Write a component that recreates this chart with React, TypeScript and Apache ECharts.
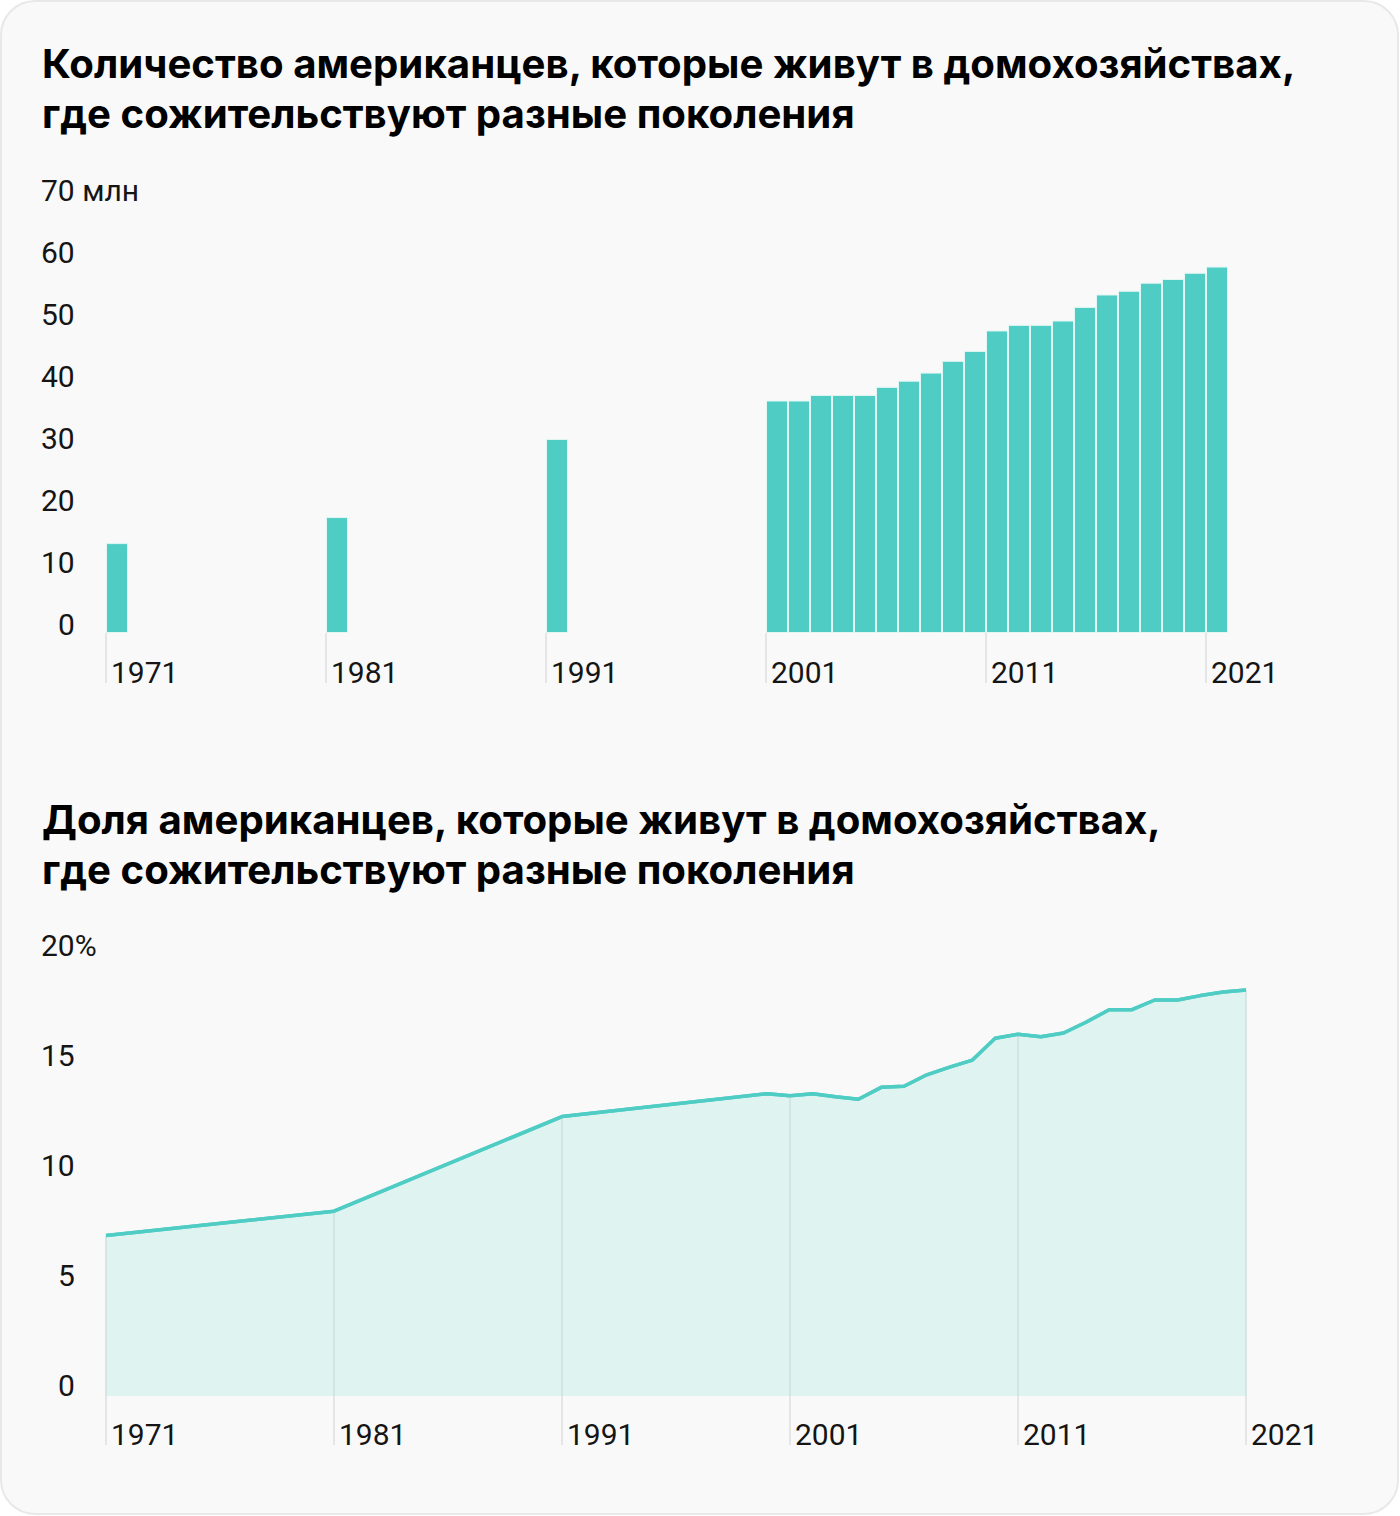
import React, { useEffect, useRef } from "react";
import * as echarts from "echarts";

const title1 = "Количество американцев, которые живут в домохозяйствах,\nгде сожительствуют разные поколения";
const title2 = "Доля американцев, которые живут в домохозяйствах,\nгде сожительствуют разные поколения";

const tickYears = [1971, 1981, 1991, 2001, 2011, 2021];

const barYears = [1971, 1981, 1991, 2001, 2002, 2003, 2004, 2005, 2006, 2007, 2008, 2009, 2010, 2011, 2012, 2013, 2014, 2015, 2016, 2017, 2018, 2019, 2020, 2021];
const barMillions = [14.5, 18.7, 31.3, 37.5, 37.5, 38.4, 38.4, 38.4, 39.7, 40.7, 42.0, 43.9, 45.5, 48.8, 49.7, 49.7, 50.4, 52.6, 54.6, 55.2, 56.5, 57.1, 58.1, 59.1];

const lineYears = [1971, 1981, 1991, 2000, 2001, 2002, 2003, 2004, 2005, 2006, 2007, 2008, 2009, 2010, 2011, 2012, 2013, 2014, 2015, 2016, 2017, 2018, 2019, 2020, 2021];
const sharePercent = [7.3, 8.4, 12.7, 13.74, 13.65, 13.74, 13.6, 13.49, 14.03, 14.08, 14.6, 14.95, 15.27, 16.26, 16.44, 16.33, 16.5, 17.0, 17.56, 17.56, 18.0, 18.0, 18.2, 18.36, 18.45];

const TITLE_FONT = "Inter";
const LABEL_FONT = "Roboto";
const TEAL = "#4fcdc4";

export default function App() {
  const ref = useRef<HTMLDivElement>(null);
  useEffect(() => {
    document.body.style.margin = "0";
    const chart = echarts.init(ref.current!, null, { renderer: "svg" });
    const labelBase = { color: "#151515", fontSize: 30, fontFamily: LABEL_FONT };
    const yLabel = (topValue: number, topSuffix: string, padB: number) => ({
      ...labelBase,
      align: "left",
      verticalAlign: "middle",
      margin: 65,
      padding: [0, 0, padB, 0],
      formatter: (v: number) => {
        if (v < 10) return "{p|" + v + "}";
        if (v === topValue) return v + topSuffix;
        return String(v);
      },
      rich: { p: { ...labelBase, padding: [0, 0, 0, 17] } },
    });
    const xAxisCommon = (min: number, max: number, tickLen: number, margin: number) => ({
      type: "value",
      min,
      max,
      axisLine: { show: false },
      splitLine: { show: false },
      axisTick: { show: true, length: tickLen, customValues: tickYears, lineStyle: { color: "#dedede", width: 1.5 } },
      axisLabel: {
        ...labelBase,
        customValues: tickYears,
        formatter: (v: number) => String(v),
        align: "left",
        verticalAlign: "top",
        lineHeight: 30,
        margin,
        padding: [0, 0, 0, 5],
      },
    });
    const gridLineVals = tickYears.map((y) => [y, sharePercent[lineYears.indexOf(y)]]);

    chart.setOption({
      animation: false,
      backgroundColor: "#ffffff",
      graphic: [
        {
          type: "rect",
          shape: { x: 1, y: 1, width: 1397, height: 1513, r: 34 },
          style: { fill: "#f9f9f9", stroke: "#e8e8e8", lineWidth: 2 },
          z: -10,
          silent: true,
        },
      ],
      title: [
        {
          text: title1,
          left: 37,
          top: 33,
          textStyle: { fontFamily: TITLE_FONT, fontSize: 40.2, fontWeight: 700, lineHeight: 50, color: "#000" },
        },
        {
          text: title2,
          left: 37,
          top: 789,
          textStyle: { fontFamily: TITLE_FONT, fontSize: 40.2, fontWeight: 700, lineHeight: 50, color: "#000" },
        },
      ],
      grid: [
        { left: 106, top: 199, width: 1122, height: 434 },
        { left: 106, top: 956, width: 1140, height: 440 },
      ],
      xAxis: [
        { gridIndex: 0, ...xAxisCommon(1971, 2022, 50, 24) },
        { gridIndex: 1, ...xAxisCommon(1971, 2021, 49, 23) },
      ],
      yAxis: [
        {
          gridIndex: 0,
          type: "value",
          min: 0,
          max: 70,
          interval: 10,
          axisLine: { show: false },
          axisTick: { show: false },
          splitLine: { show: false },
          axisLabel: yLabel(70, " млн", 18),
        },
        {
          gridIndex: 1,
          type: "value",
          min: 0,
          max: 20,
          interval: 5,
          axisLine: { show: false },
          axisTick: { show: false },
          splitLine: { show: false },
          axisLabel: yLabel(20, "%", 22),
        },
      ],
      series: [
        {
          type: "bar",
          xAxisIndex: 0,
          yAxisIndex: 0,
          barWidth: 22,
          clip: false,
          data: barYears.map((y, i) => [y + 0.5, barMillions[i]]),
          itemStyle: { color: TEAL, borderColor: "#e3f6f3", borderWidth: 1 },
        },
        {
          type: "line",
          xAxisIndex: 1,
          yAxisIndex: 1,
          data: lineYears.map((y, i) => [y, sharePercent[i]]),
          symbol: "none",
          lineStyle: { color: TEAL, width: 3.5 },
          areaStyle: { color: "#dff3f0", opacity: 1 },
          z: 2,
        },
        {
          type: "bar",
          xAxisIndex: 1,
          yAxisIndex: 1,
          barWidth: 1.5,
          data: gridLineVals,
          itemStyle: { color: "#cfdfdd" },
          z: 3,
        },
        {
          type: "line",
          xAxisIndex: 1,
          yAxisIndex: 1,
          data: lineYears.map((y, i) => [y, sharePercent[i]]),
          symbol: "none",
          lineStyle: { color: TEAL, width: 3.5 },
          z: 4,
        },
      ],
    });
    return () => chart.dispose();
  }, []);
  return <div ref={ref} style={{ width: 1400, height: 1516 }} />;
}
